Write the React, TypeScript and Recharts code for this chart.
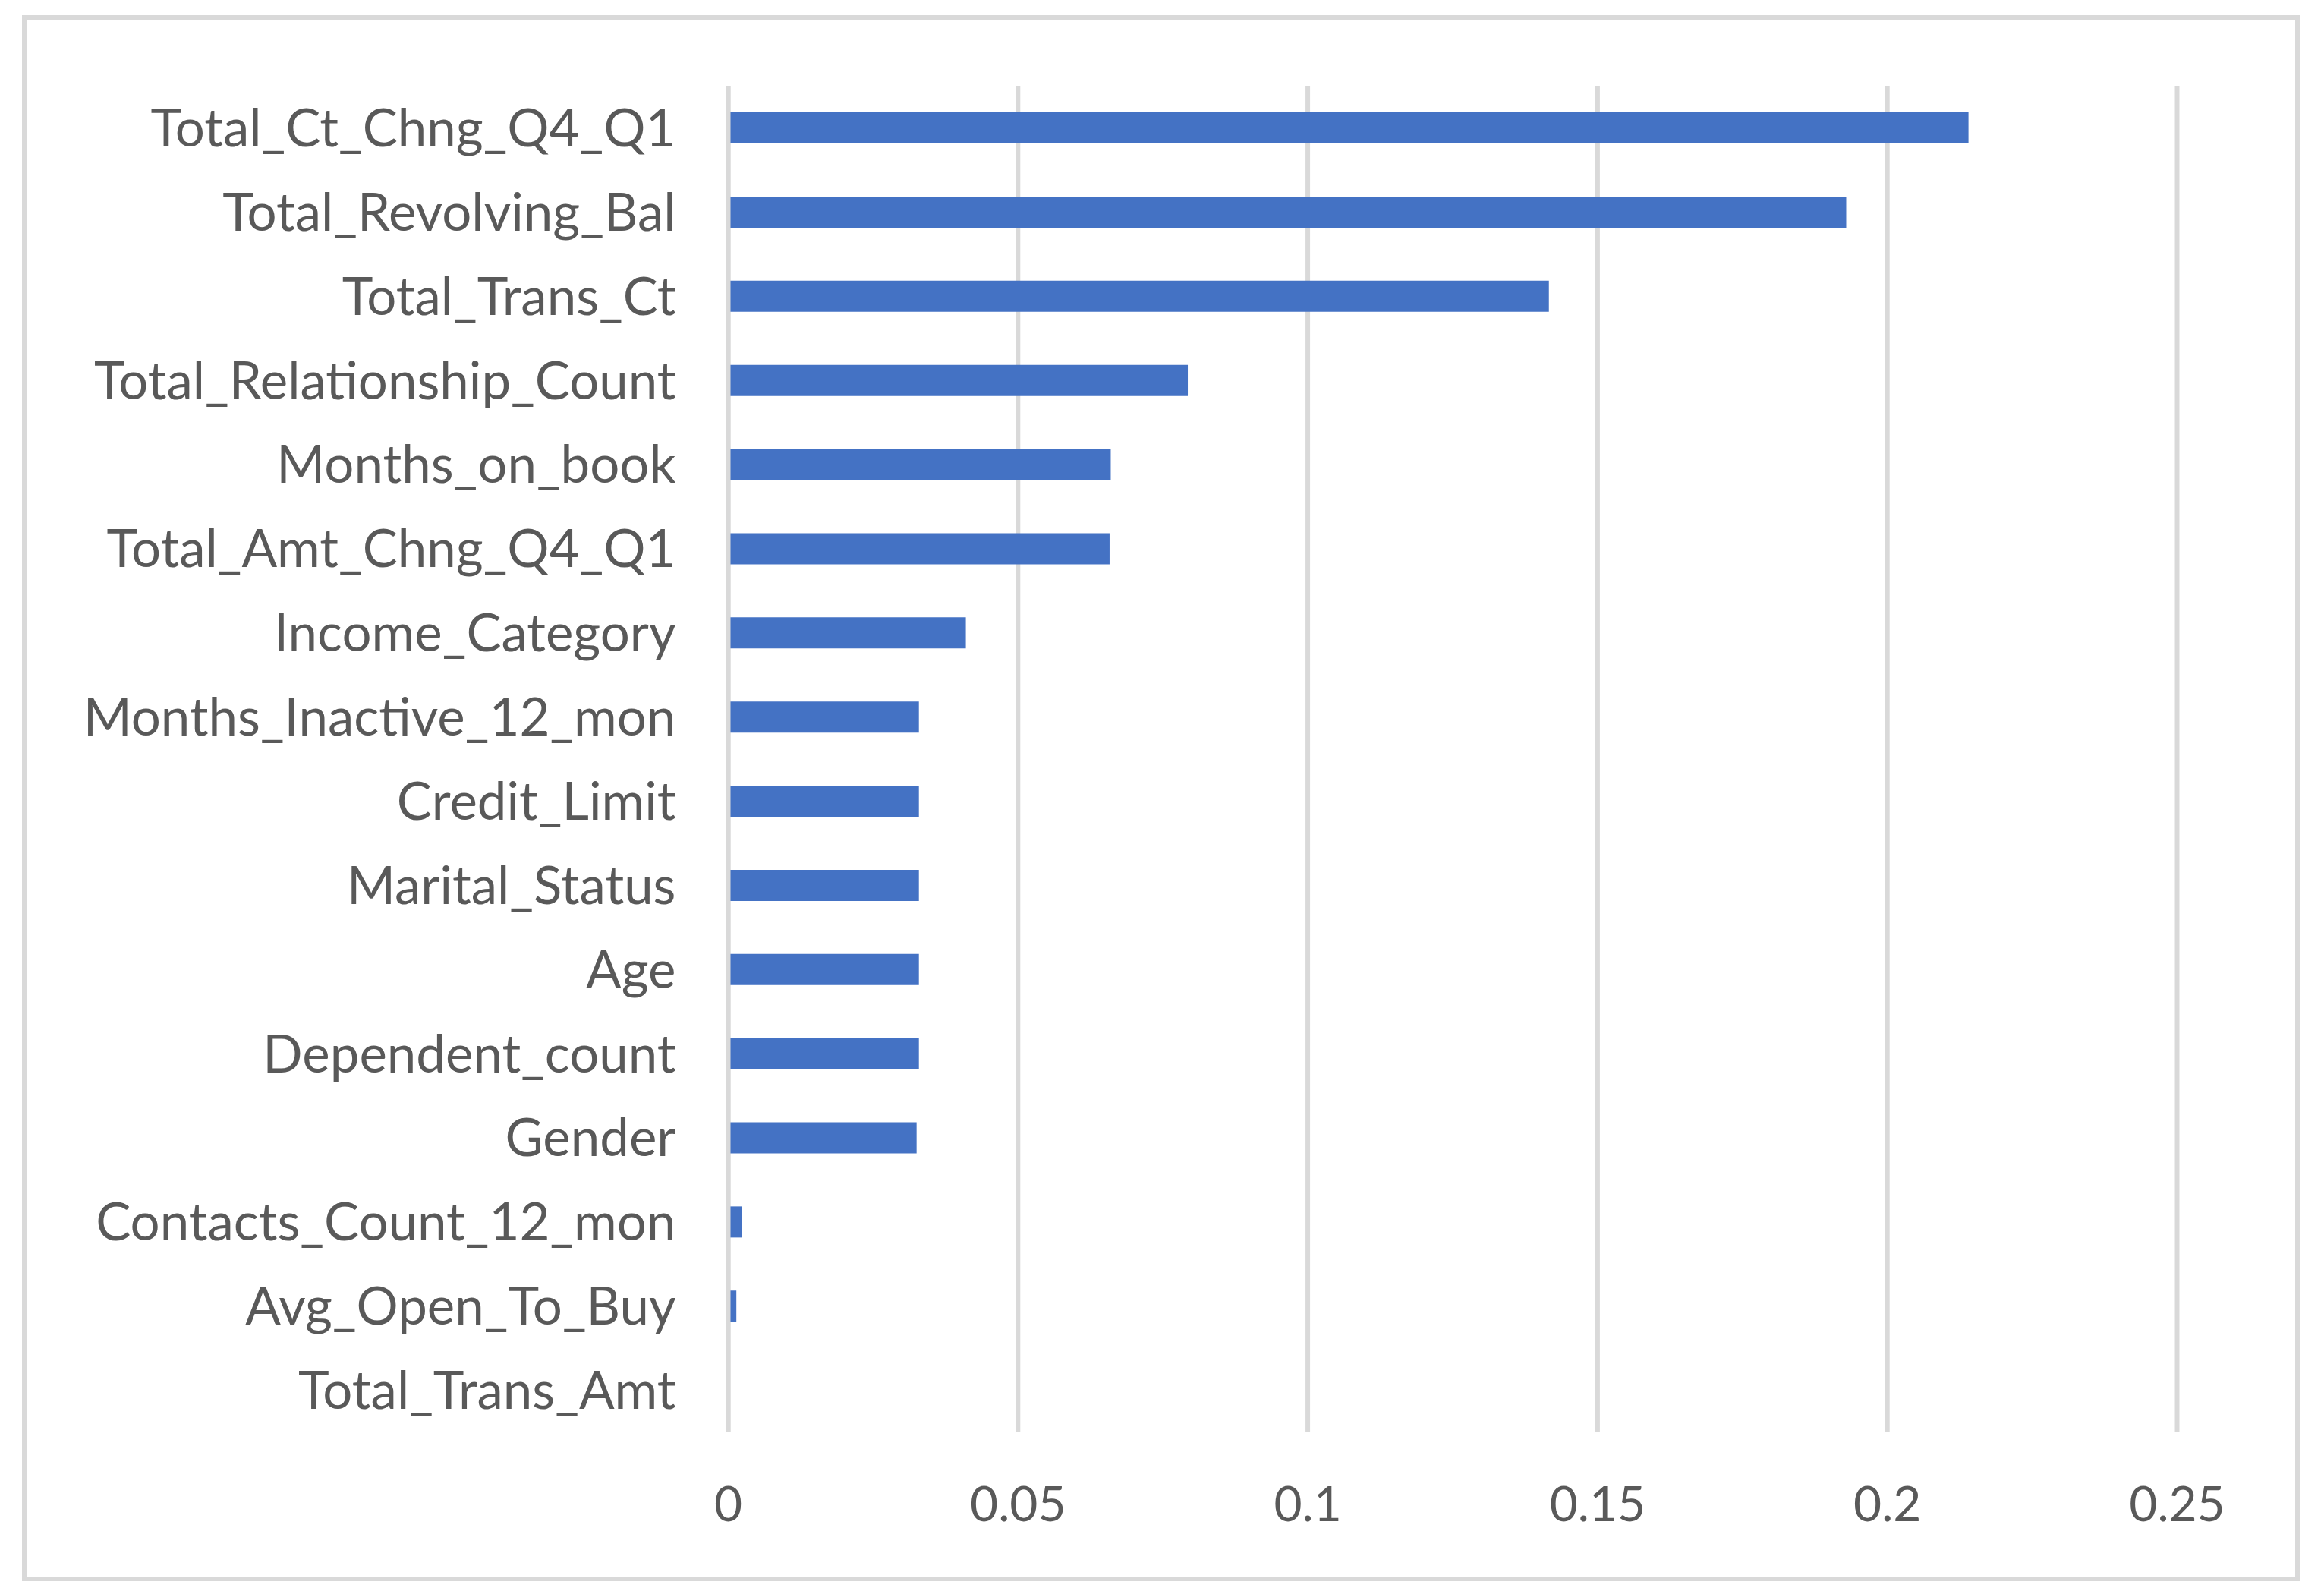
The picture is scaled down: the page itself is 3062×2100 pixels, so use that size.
import React from "react";
import { BarChart, Bar, XAxis, YAxis, CartesianGrid, ReferenceLine } from "recharts";

const features = [
  "Total_Ct_Chng_Q4_Q1",
  "Total_Revolving_Bal",
  "Total_Trans_Ct",
  "Total_Relationship_Count",
  "Months_on_book",
  "Total_Amt_Chng_Q4_Q1",
  "Income_Category",
  "Months_Inactive_12_mon",
  "Credit_Limit",
  "Marital_Status",
  "Age",
  "Dependent_count",
  "Gender",
  "Contacts_Count_12_mon",
  "Avg_Open_To_Buy",
  "Total_Trans_Amt",
];

const importance = [
  0.214, 0.1929, 0.1416, 0.0793, 0.066, 0.0658, 0.041, 0.0329, 0.0329, 0.0329,
  0.0329, 0.0329, 0.0325, 0.0024, 0.0014, 0,
];

const xTicks = [0, 0.05, 0.1, 0.15, 0.2, 0.25];

const data = features.map((name, i) => ({ name, value: importance[i] }));

const FONT = "Lato, 'Open Sans', sans-serif";
const TEXT = "#595959";
const GRID = "#d9d9d9";

export default function App() {
  return (
    <div
      style={{
        position: "absolute",
        left: 0,
        top: 0,
        width: 3062,
        height: 2100,
        background: "#ffffff",
        overflow: "hidden",
      }}
    >
      <div
        style={{
          position: "absolute",
          left: 29,
          top: 20,
          width: 3001,
          height: 2063,
          border: `6px solid ${GRID}`,
          boxSizing: "border-box",
        }}
      />
      <div style={{ position: "absolute", left: 0, top: 0 }}>
        <BarChart
          width={3062}
          height={2100}
          data={data}
          layout="vertical"
          margin={{ top: 113, right: 193.5, bottom: 63, left: 0 }}
          barSize={41}
        >
          <CartesianGrid horizontal={false} vertical={true} stroke={GRID} strokeWidth={6} />
          <XAxis
            type="number"
            domain={[0, 0.25]}
            ticks={xTicks}
            axisLine={false}
            tickLine={false}
            height={150}
            tickMargin={66}
            interval={0}
            tick={{ fill: TEXT, fontSize: 64, fontFamily: FONT }}
          />
          <YAxis
            type="category"
            dataKey="name"
            width={959.5}
            axisLine={false}
            tickLine={false}
            tickMargin={63}
            interval={0}
            tick={{ fill: TEXT, fontSize: 69, fontFamily: FONT }}
          />
          <Bar dataKey="value" fill="#4472c4" isAnimationActive={false} />
          <ReferenceLine x={0} stroke={GRID} strokeWidth={6} />
        </BarChart>
      </div>
    </div>
  );
}
